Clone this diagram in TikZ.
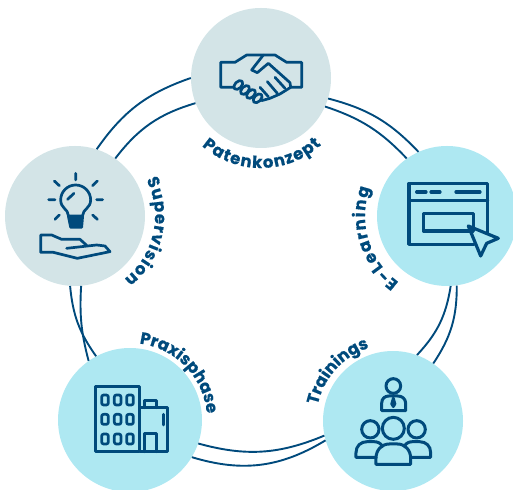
\documentclass[tikz,border=0pt]{standalone}
\usepackage{fontspec}
\usetikzlibrary{decorations.text}
\newfontfamily\popfont{Poppins}[BoldFeatures={FakeBold=0.6}]
\definecolor{navy}{HTML}{004A7C}
\definecolor{pale}{HTML}{D3E4E7}
\definecolor{aqua}{HTML}{AEE8F2}
\tikzset{
  disc/.style={circle,inner sep=0pt,minimum size=140pt},
  ring/.style={draw=navy,line width=1.9pt},
  ico/.style={draw=navy,line width=2.7pt,line join=round,line cap=round},
  arclabel/.style={decorate,decoration={text along path,text align=fit to path,
    text={|\popfont\bfseries\fontsize{16.5}{17}\selectfont\color{navy}|#1}}},
}
\begin{document}
\begin{tikzpicture}[x=1pt,y=1pt]
\useasboundingbox (0,0) rectangle (513,489);
\clip (0,0) rectangle (513,489);
\node[disc,fill=pale] (top) at (261,411) {};
\node[disc,fill=pale] (lft) at (75,273) {};
\node[disc,fill=aqua] (rgt) at (447,273) {};
\node[disc,fill=aqua,minimum size=144pt] (bl) at (130,69) {};
\node[disc,fill=aqua] (br) at (393,68) {};
% rings
\draw[ring] (lft.72) to[bend left=18] (top.180);
\draw[ring] (lft.55) to[bend left=18] (top.201);
\draw[ring] (top.-17) to[bend left=16] (rgt.114);
\draw[ring] (top.-24) to[bend left=14] (rgt.125);
\draw[ring] (rgt.-87) to[bend left=17] (br.70);
\draw[ring] (rgt.-82) to[bend left=17] (br.55);
\draw[ring] (br.192) to[bend left=19] (bl.-19);
\draw[ring] (br.196) to[bend left=24] (bl.-31);
\draw[ring] (bl.118) to[bend left=15] (lft.-94);
\draw[ring] (bl.125) to[bend left=9] (lft.-85);
% labels
\path[arclabel={Patenkonzept}] (261,411) ++(229:90) arc[start angle=229,end angle=312,radius=90];
\path[arclabel={Supervision}] (75,273) ++(27:80) arc[start angle=27,end angle=-52,radius=80];
\path[arclabel={E-Learning}] (447,273) ++(234:82) arc[start angle=234,end angle=160,radius=82];
\path[arclabel={Trainings}] (393,68) ++(168:77) arc[start angle=168,end angle=108,radius=77];
\path[arclabel={Praxisphase}] (130,69) ++(83:77) arc[start angle=83,end angle=6,radius=77];
% handshake
\begin{scope}[shift={(180,489)},x=0.3333pt,y=-0.3333pt]
\draw[ico] (160,262)--(122,262)--(122,187)--(165,187)--(200,165)--(285,165)--(320,187)--(365,187)--(365,262)--(332,262);
\draw[ico] (250,165)--(215,210)--(232,218)--(265,190)--(330,248)--(332,262)--(300,282)--(270,295)--(245,302);
\draw[ico] (240,262)--(265,290) (262,245)--(292,280) (285,232)--(315,265);
\foreach \p in {(175,255),(195,270),(213,282),(233,295)}
  \draw[ico,rotate around={45:\p}] \p ellipse[x radius=16,y radius=10];
\end{scope}
% bulb and hand
\begin{scope}[shift={(0,349)},x=0.3333pt,y=-0.3333pt]
\draw[ico] (205,226) .. controls (205,208) and (182,205) .. (182,180) arc[start angle=180,end angle=360,radius=45] .. controls (272,205) and (248,208) .. (248,226);
\draw[ico,fill=navy] (205,228)--(248,228)--(245,262)--(212,262)--cycle;
\draw[ico] (227,100)--(227,120) (163,123)--(178,137) (292,123)--(278,137) (146,179)--(165,179) (290,179)--(308,179) (178,225)--(165,238) (278,225)--(292,238) (222,160)--(203,178);
\draw[ico] (200,325)--(290,315)--(315,318)--(330,335)--(232,355)--(160,337)--(122,337)--(122,285)--(155,285)--(185,298)--(240,298)--(262,318);
\end{scope}
% browser
\begin{scope}[shift={(350,349)},x=0.3333pt,y=-0.3333pt]
\draw[ico,line width=3.2pt] (413,280)--(413,130)--(177,130)--(177,313)--(372,313);
\draw[ico,line width=3.2pt] (177,182)--(413,182);
\draw[ico,line width=3.2pt] (200,156)--(228,156) (243,156)--(270,156) (318,156)--(390,156);
\draw[ico,line width=3.2pt] (220,220) rectangle (370,273);
\draw[ico,line width=3.2pt] (355,258)--(445,295)--(410,310)--(392,348)--cycle;
\end{scope}
% building
\begin{scope}[shift={(50,169)},x=0.3333pt,y=-0.3333pt]
\draw[ico,line width=3pt] (137,200) rectangle (270,395);
\draw[ico,line width=3pt] (270,263)--(354,263)--(354,395)--(270,395);
\draw[ico,line width=3pt] (284,263)--(284,243)--(320,243)--(320,263);
\draw[ico,line width=3pt] (284,395)--(284,342)--(320,342)--(320,395);
\draw[ico] (340,283)--(340,315);
\foreach \cx in {165,203,240} \foreach \cy in {240,298,357}
  \draw[ico,rounded corners=2pt] (\cx-10,\cy-15) rectangle (\cx+10,\cy+15);
\end{scope}
% people
\begin{scope}[shift={(290,169)},x=0.3333pt,y=-0.3333pt]
\draw[ico,line width=3pt] (310,198) circle[radius=22];
\draw[ico,line width=3pt] (275,272)--(275,250) .. controls (275,235) and (285,228) .. (297,228)--(323,228) .. controls (335,228) and (347,235) .. (347,250)--(347,272)--cycle;
\draw[ico,fill=navy] (310,234)--(305,252)--(310,260)--(315,252)--cycle;
\draw[ico,line width=3pt] (241,328) circle[radius=26] (310,325) circle[radius=33] (380,328) circle[radius=26];
\draw[ico,line width=3pt] (258,412)--(198,412)--(198,398) .. controls (198,378) and (212,365) .. (232,365)--(250,365) .. controls (262,365) and (270,368) .. (277,378);
\draw[ico,line width=3pt] (362,412)--(422,412)--(422,398) .. controls (422,378) and (408,365) .. (388,365)--(370,365) .. controls (358,365) and (350,368) .. (343,378);
\draw[ico,line width=3pt] (258,433)--(258,415) .. controls (258,390) and (275,372) .. (298,372)--(322,372) .. controls (345,372) and (362,390) .. (362,415)--(362,433)--cycle;
\end{scope}
\end{tikzpicture}
\end{document}
